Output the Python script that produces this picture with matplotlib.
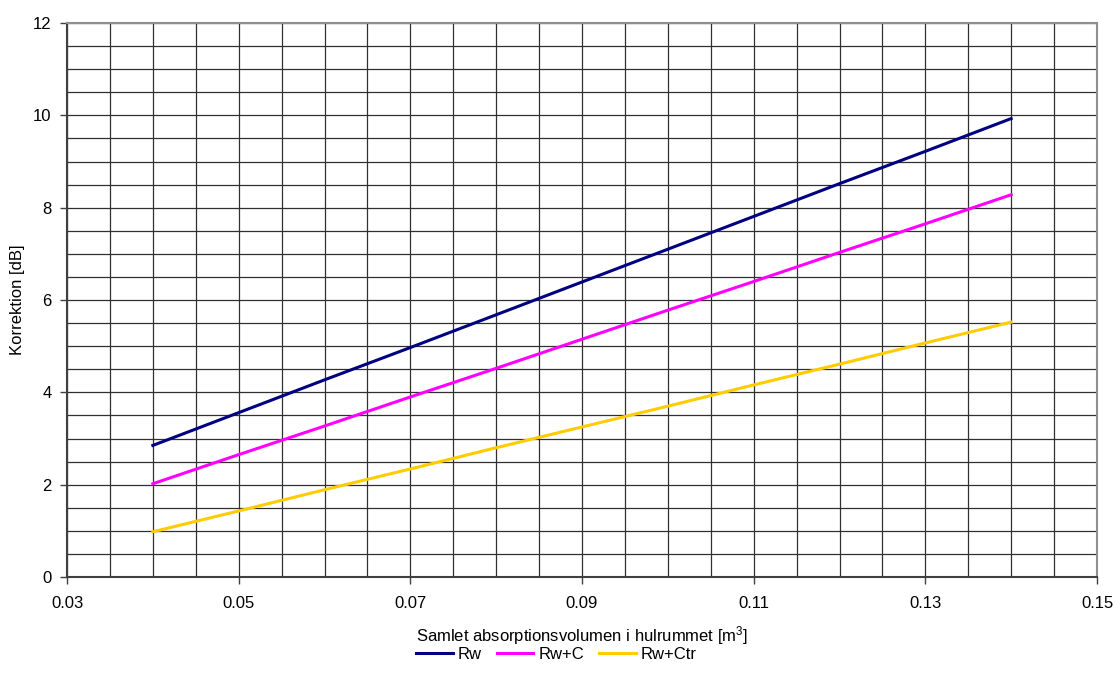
import matplotlib.pyplot as plt
from matplotlib.ticker import MultipleLocator

plt.rcParams['font.family'] = ['Liberation Sans', 'DejaVu Sans']
plt.rcParams['mathtext.default'] = 'regular'

# absorption volume in the cavity [m3]
volume = [0.04, 0.05, 0.06, 0.07, 0.08, 0.09, 0.10, 0.11, 0.12, 0.13, 0.14]
rw = [2.85, 3.56, 4.27, 4.97, 5.68, 6.39, 7.10, 7.81, 8.52, 9.22, 9.93]
rw_c = [2.02, 2.65, 3.27, 3.90, 4.52, 5.15, 5.78, 6.40, 7.03, 7.65, 8.28]
rw_ctr = [0.98, 1.43, 1.89, 2.34, 2.80, 3.25, 3.70, 4.16, 4.61, 5.07, 5.52]
x_ticks = [0.03, 0.05, 0.07, 0.09, 0.11, 0.13, 0.15]

fig = plt.figure(figsize=(11.13, 6.82), dpi=100)
ax = fig.add_axes([67 / 1113, 105 / 682, 1030 / 1113, 554 / 682])

ax.plot(volume, rw, color='#000080', lw=2.2, label='Rw', zorder=3)
ax.plot(volume, rw_c, color='#FF00FF', lw=2.2, label='Rw+C', zorder=3)
ax.plot(volume, rw_ctr, color='#FFCC00', lw=2.2, label='Rw+Ctr', zorder=3)

ax.set_xlim(0.03, 0.15)
ax.set_ylim(0, 12)
ax.set_xticks(x_ticks)
ax.set_xticklabels([f"{v:.2f}" for v in x_ticks])
ax.xaxis.set_minor_locator(MultipleLocator(0.005))
ax.yaxis.set_major_locator(MultipleLocator(2))
ax.yaxis.set_minor_locator(MultipleLocator(0.5))

ax.grid(True, which='both', color='#303030', lw=0.9)
ax.tick_params(which='major', direction='out', length=5, width=1, color='#404040', labelsize=12)
ax.tick_params(which='minor', length=0)
ax.tick_params(axis='x', pad=9)
ax.tick_params(axis='y', pad=6)

for s in ['left', 'bottom']:
    ax.spines[s].set_color('#404040')
    ax.spines[s].set_linewidth(1.5)
for s in ['top', 'right']:
    ax.spines[s].set_color('#909090')
    ax.spines[s].set_linewidth(1.5)

ax.set_xlabel('Samlet absorptionsvolumen i hulrummet [m$^3$]', fontsize=12, labelpad=9)
ax.set_ylabel('Korrektion [dB]', fontsize=12, labelpad=6)

fig.legend(loc='center', bbox_to_anchor=(0.5, 0.041), ncol=3, frameon=False,
           fontsize=12, handlelength=2.2, handletextpad=0.3, columnspacing=0.9)

fig.savefig('out.png', dpi=100)
